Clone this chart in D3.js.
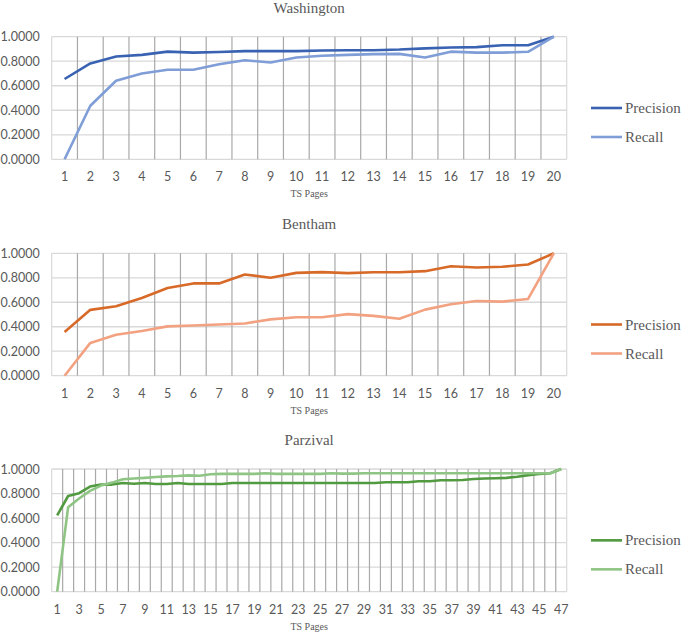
<!DOCTYPE html>
<html>
<head>
<meta charset="utf-8">
<script src="https://cdn.jsdelivr.net/npm/d3@7"></script>
<style>
  body { margin: 0; background: #fff; }
  svg { display: block; }
</style>
</head>
<body>
<div id="chart"></div>
<script>
// values
const washPages = d3.range(1, 21);
const washPrecision = [0.655, 0.782, 0.838, 0.852, 0.878, 0.870, 0.875, 0.882, 0.882, 0.882,
  0.888, 0.890, 0.890, 0.895, 0.905, 0.912, 0.915, 0.930, 0.930, 1.000];
const washRecall = [0.000, 0.437, 0.641, 0.700, 0.730, 0.730, 0.776, 0.808, 0.790, 0.830,
  0.845, 0.852, 0.858, 0.860, 0.830, 0.878, 0.870, 0.870, 0.877, 1.000];

const benthPages = d3.range(1, 21);
const benthPrecision = [0.357, 0.538, 0.568, 0.635, 0.716, 0.754, 0.754, 0.827, 0.800, 0.840,
  0.846, 0.838, 0.845, 0.845, 0.854, 0.894, 0.884, 0.890, 0.908, 1.000];
const benthRecall = [0.000, 0.268, 0.335, 0.365, 0.403, 0.410, 0.418, 0.427, 0.460, 0.478,
  0.478, 0.503, 0.489, 0.465, 0.540, 0.584, 0.610, 0.605, 0.627, 1.000];

const parzPages = d3.range(1, 48);
const parzPrecision = [0.622, 0.780, 0.803, 0.857, 0.873, 0.873, 0.886, 0.880, 0.886, 0.878,
  0.878, 0.886, 0.878, 0.878, 0.878, 0.878, 0.886, 0.886, 0.886, 0.886,
  0.886, 0.886, 0.886, 0.886, 0.886, 0.886, 0.886, 0.886, 0.886, 0.886,
  0.892, 0.892, 0.892, 0.900, 0.900, 0.908, 0.908, 0.910, 0.918, 0.922,
  0.925, 0.928, 0.937, 0.950, 0.960, 0.965, 1.000];
const parzRecall = [0.000, 0.689, 0.760, 0.822, 0.865, 0.889, 0.916, 0.922, 0.928, 0.935,
  0.940, 0.943, 0.948, 0.945, 0.957, 0.960, 0.960, 0.960, 0.960, 0.965,
  0.960, 0.960, 0.960, 0.960, 0.960, 0.965, 0.962, 0.962, 0.965, 0.965,
  0.965, 0.965, 0.965, 0.965, 0.965, 0.965, 0.965, 0.965, 0.965, 0.965,
  0.965, 0.965, 0.965, 0.965, 0.965, 0.965, 1.000];

const yTicks = [0, 0.2, 0.4, 0.6, 0.8, 1.0];
const seriesNames = ["Precision", "Recall"];

const width = 685, height = 633;
const left = 51.7, right = 566.7;
const textCol = "#595959";

const svg = d3.select("#chart").append("svg")
  .attr("width", width)
  .attr("height", height);

const charts = [
  { title: "Washington", pages: washPages, series: [washPrecision, washRecall],
    colors: ["#3963b2", "#7f9dd6"], top: 36.7, bottom: 159.3, tickEvery: 1 },
  { title: "Bentham", pages: benthPages, series: [benthPrecision, benthRecall],
    colors: ["#d86a29", "#f2a181"], top: 253.3, bottom: 375.7, tickEvery: 1 },
  { title: "Parzival", pages: parzPages, series: [parzPrecision, parzRecall],
    colors: ["#519a40", "#8fc584"], top: 469, bottom: 591.7, tickEvery: 2 }
];

charts.forEach(c => drawChart(c));

function drawChart(c) {
  const g = svg.append("g");

  const x = d3.scaleBand()
    .domain(c.pages)
    .range([left, right])
    .padding(0);

  const y = d3.scaleLinear()
    .domain([0, 1])
    .range([c.bottom, c.top]);

  // horizontal grid
  g.append("g").selectAll("line")
    .data(yTicks)
    .join("line")
    .attr("x1", left).attr("x2", right)
    .attr("y1", d => y(d)).attr("y2", d => y(d))
    .style("stroke", "#d9d9d9")
    .style("stroke-width", "1.3px");

  // vertical grid at category boundaries
  const bounds = c.pages.map(p => x(p)).concat([right]);
  g.append("g").selectAll("line")
    .data(bounds)
    .join("line")
    .attr("x1", d => d).attr("x2", d => d)
    .attr("y1", c.top).attr("y2", c.bottom)
    .style("stroke", (d, i) => (i === 0 || i === bounds.length - 1) ? "#d9d9d9" : "#a9a9a9")
    .style("stroke-width", "1.2px");

  // y axis labels
  const yAxis = d3.axisLeft(y)
    .tickValues(yTicks)
    .tickSize(0)
    .tickPadding(12)
    .tickFormat(d3.format(".4f"));
  const ya = g.append("g")
    .attr("transform", "translate(" + left + ",0)")
    .call(yAxis);
  ya.select(".domain").remove();
  ya.selectAll("text")
    .style("font-family", "Lato, 'Open Sans', sans-serif")
    .style("font-size", "12.5px")
    .style("fill", textCol);

  // x axis labels
  const xAxis = d3.axisBottom(x)
    .tickValues(c.pages.filter((p, i) => i % c.tickEvery === 0))
    .tickSize(0)
    .tickPadding(13);
  const xa = g.append("g")
    .attr("transform", "translate(0," + c.bottom + ")")
    .call(xAxis);
  xa.select(".domain").remove();
  xa.selectAll("text")
    .style("font-family", "Lato, 'Open Sans', sans-serif")
    .style("font-size", "12.5px")
    .style("fill", textCol);

  // title
  g.append("text")
    .attr("x", (left + right) / 2)
    .attr("y", c.top - 24)
    .attr("text-anchor", "middle")
    .style("font-family", "'Liberation Serif', 'Times New Roman', serif")
    .style("font-size", "15px")
    .style("fill", textCol)
    .text(c.title);

  // x axis title
  g.append("text")
    .attr("x", (left + right) / 2)
    .attr("y", c.bottom + 38)
    .attr("text-anchor", "middle")
    .style("font-family", "'Liberation Serif', 'Times New Roman', serif")
    .style("font-size", "10px")
    .style("fill", textCol)
    .text("TS Pages");

  // lines
  const line = d3.line()
    .x((d, i) => x(c.pages[i]) + x.bandwidth() / 2)
    .y(d => y(d));

  c.series.forEach((s, i) => {
    g.append("path")
      .datum(s)
      .attr("d", line)
      .style("fill", "none")
      .style("stroke", c.colors[i])
      .style("stroke-width", "2.6px")
      .style("stroke-linejoin", "round");
  });

  // legend
  const midY = (c.top + c.bottom) / 2;
  const lg = g.append("g")
    .selectAll("g")
    .data(seriesNames)
    .join("g")
    .attr("transform", (d, i) => "translate(591," + (midY + 10 + i * 29) + ")");
  lg.append("line")
    .attr("x1", 0).attr("x2", 31)
    .attr("y1", 0).attr("y2", 0)
    .style("stroke", (d, i) => c.colors[i])
    .style("stroke-width", "2.6px");
  lg.append("text")
    .attr("x", 34)
    .attr("y", 5)
    .style("font-family", "'Liberation Serif', 'Times New Roman', serif")
    .style("font-size", "15px")
    .style("fill", textCol)
    .text(d => d);
}
</script>
</body>
</html>
